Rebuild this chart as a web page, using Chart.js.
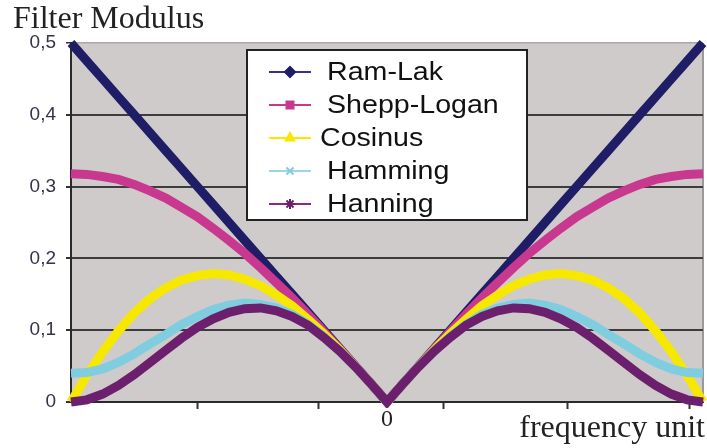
<!DOCTYPE html>
<html>
<head>
<meta charset="utf-8">
<script src="https://cdn.jsdelivr.net/npm/chart.js@4.4.0/dist/chart.umd.min.js"></script>
<style>
html, body { margin: 0; padding: 0; background: #fff; }
</style>
</head>
<body>
<canvas id="filterChart" width="707" height="448"></canvas>
<script>
// Frequency (x) and filter values
const freq = [-0.5, -0.475, -0.45, -0.425, -0.4, -0.375, -0.35, -0.325, -0.3, -0.275, -0.25, -0.225, -0.2, -0.175, -0.15, -0.125, -0.1, -0.075, -0.05, -0.025, 0,
    0.025, 0.05, 0.075, 0.1, 0.125, 0.15, 0.175, 0.2, 0.225, 0.25, 0.275, 0.3, 0.325, 0.35, 0.375, 0.4, 0.425, 0.45, 0.475, 0.5];

const ramLak = [0.5, 0.475, 0.45, 0.425, 0.4, 0.375, 0.35, 0.325, 0.3, 0.275, 0.25, 0.225, 0.2, 0.175, 0.15, 0.125, 0.1, 0.075, 0.05, 0.025, 0,
    0.025, 0.05, 0.075, 0.1, 0.125, 0.15, 0.175, 0.2, 0.225, 0.25, 0.275, 0.3, 0.325, 0.35, 0.375, 0.4, 0.425, 0.45, 0.475, 0.5];

const sheppLogan = [0.318, 0.317, 0.314, 0.310, 0.303, 0.294, 0.284, 0.271, 0.258, 0.242, 0.225, 0.207, 0.187, 0.166, 0.145, 0.122, 0.098, 0.074, 0.050, 0.025, 0,
    0.025, 0.050, 0.074, 0.098, 0.122, 0.145, 0.166, 0.187, 0.207, 0.225, 0.242, 0.258, 0.271, 0.284, 0.294, 0.303, 0.310, 0.314, 0.317, 0.318];

const cosinus = [0, 0.037, 0.070, 0.099, 0.124, 0.144, 0.159, 0.170, 0.176, 0.179, 0.177, 0.171, 0.162, 0.149, 0.134, 0.115, 0.095, 0.073, 0.049, 0.025, 0,
    0.025, 0.049, 0.073, 0.095, 0.115, 0.134, 0.149, 0.162, 0.171, 0.177, 0.179, 0.176, 0.170, 0.159, 0.144, 0.124, 0.099, 0.070, 0.037, 0];

const hamming = [0.040, 0.041, 0.046, 0.055, 0.067, 0.081, 0.094, 0.108, 0.119, 0.129, 0.135, 0.138, 0.136, 0.131, 0.122, 0.108, 0.091, 0.071, 0.049, 0.025, 0,
    0.025, 0.049, 0.071, 0.091, 0.108, 0.122, 0.131, 0.136, 0.138, 0.135, 0.129, 0.119, 0.108, 0.094, 0.081, 0.067, 0.055, 0.046, 0.041, 0.040];

const hanning = [0, 0.003, 0.011, 0.023, 0.038, 0.055, 0.072, 0.089, 0.104, 0.116, 0.125, 0.130, 0.131, 0.127, 0.119, 0.107, 0.090, 0.071, 0.049, 0.025, 0,
    0.025, 0.049, 0.071, 0.090, 0.107, 0.119, 0.127, 0.131, 0.130, 0.125, 0.116, 0.104, 0.089, 0.072, 0.055, 0.038, 0.023, 0.011, 0.003, 0];

// x positions of the small tick marks under the axis
const xTickMarks = [-0.3, -0.109, 0.089, 0.285, 0.479];
const yTicks = [0, 0.1, 0.2, 0.3, 0.4, 0.5];

const seriesNames = ['Ram-Lak', 'Shepp-Logan', 'Cosinus', 'Hamming', 'Hanning'];
const seriesValues = [ramLak, sheppLogan, cosinus, hamming, hanning];
const seriesColors = ['#1e1d66', '#c9388f', '#f7e800', '#80cde0', '#6c1f6c'];
const legendLineColors = ['#3b2e8e', '#c9388f', '#f7e800', '#9ad6e6', '#8a2a86'];
const legendMarkers = ['rectRot', 'rect', 'triangle', 'crossRot', 'star'];

const datasets = seriesNames.map((name, i) => ({
    label: name,
    data: freq.map((f, k) => ({ x: f, y: seriesValues[i][k] })),
    borderColor: seriesColors[i],
    backgroundColor: seriesColors[i],
    borderWidth: 9,
    pointRadius: 0,
    tension: 0,
    clip: 6,
    order: 5 - i  // Hanning on top, Ram-Lak at the bottom
}));

// Grey plot background + extra texts + boxed legend
const decorPlugin = {
    id: 'decor',
    beforeDraw(chart) {
        const { ctx, chartArea: a } = chart;
        ctx.save();
        ctx.fillStyle = '#cfcbcb';
        ctx.fillRect(a.left, a.top, a.right - a.left, a.bottom - a.top);
        ctx.strokeStyle = '#9a9a9a';
        ctx.lineWidth = 2;
        ctx.beginPath();
        ctx.moveTo(a.right, a.top);
        ctx.lineTo(a.right, a.bottom);
        ctx.stroke();
        ctx.restore();
    },
    afterDraw(chart) {
        const { ctx } = chart;
        ctx.save();
        ctx.fillStyle = '#222';
        ctx.font = '32px "Liberation Serif", serif';
        ctx.textBaseline = 'alphabetic';
        ctx.textAlign = 'left';
        ctx.fillText('Filter Modulus', 13, 28);
        ctx.textAlign = 'right';
        ctx.fillText('frequency unit', 705, 437);

        // legend box
        const bx = 247, by = 50, bw = 280, bh = 170;
        ctx.fillStyle = '#ffffff';
        ctx.fillRect(bx, by, bw, bh);
        ctx.strokeStyle = '#222';
        ctx.lineWidth = 2;
        ctx.strokeRect(bx, by, bw, bh);

        ctx.font = '26px "Liberation Sans", Arial, sans-serif';
        ctx.textAlign = 'left';
        ctx.textBaseline = 'middle';
        const textX = [327, 327, 320, 327, 327];
        seriesNames.forEach((name, i) => {
            const y = 72 + i * 33;
            ctx.strokeStyle = legendLineColors[i];
            ctx.lineWidth = 2;
            ctx.beginPath();
            ctx.moveTo(269, y);
            ctx.lineTo(311, y);
            ctx.stroke();
            ctx.fillStyle = seriesColors[i];
            ctx.strokeStyle = seriesColors[i];
            Chart.helpers.drawPoint(ctx, { pointStyle: legendMarkers[i], radius: 5, borderWidth: 2, rotation: 0 }, 290, y);
            // text is a bit wider in the original
            ctx.save();
            ctx.translate(textX[i], y + 1);
            ctx.scale(1.1, 1);
            ctx.fillStyle = '#111';
            ctx.fillText(name, 0, 0);
            ctx.restore();
        });
        ctx.restore();
    }
};

const ctx = document.getElementById('filterChart').getContext('2d');
const filterChart = new Chart(ctx, {
    type: 'line',
    data: { datasets: datasets },
    options: {
        responsive: false,
        animation: false,
        layout: { padding: { top: 43, right: 4, left: 0, bottom: 0 } },
        plugins: {
            legend: { display: false },
            tooltip: { enabled: false }
        },
        scales: {
            x: {
                type: 'linear',
                min: -0.5,
                max: 0.5,
                afterBuildTicks: scale => {
                    scale.ticks = xTickMarks.concat([0]).map(v => ({ value: v }));
                },
                afterFit: scale => { scale.height = 46; },
                ticks: {
                    autoSkip: false,
                    maxRotation: 0,
                    padding: -4,
                    color: '#222',
                    font: { family: '"Liberation Serif", serif', size: 24 },
                    callback: v => (v === 0 ? '0' : '')
                },
                grid: {
                    drawOnChartArea: false,
                    drawTicks: true,
                    tickLength: 7,
                    tickWidth: 2,
                    tickColor: c => (c.tick && c.tick.value === 0 ? 'rgba(0,0,0,0)' : '#333')
                },
                border: { display: true, color: '#2a2a2a', width: 2 }
            },
            y: {
                min: 0,
                max: 0.5,
                afterBuildTicks: scale => {
                    scale.ticks = yTicks.map(v => ({ value: v }));
                },
                afterFit: scale => { scale.width = 71; },
                ticks: {
                    padding: 10,
                    color: '#33334a',
                    font: { family: '"Liberation Sans", Arial, sans-serif', size: 19 },
                    callback: v => (v === 0 ? '0' : v.toFixed(1).replace('.', ','))
                },
                grid: {
                    color: c => (c.tick && c.tick.value === 0.5 ? '#a8a8a8' : '#3c3c3c'),
                    lineWidth: c => (c.tick && c.tick.value === 0.5 ? 1.5 : 2),
                    tickLength: 5,
                    tickColor: '#333'
                },
                border: { display: true, color: '#2a2a2a', width: 2 }
            }
        }
    },
    plugins: [decorPlugin]
});
</script>
</body>
</html>
